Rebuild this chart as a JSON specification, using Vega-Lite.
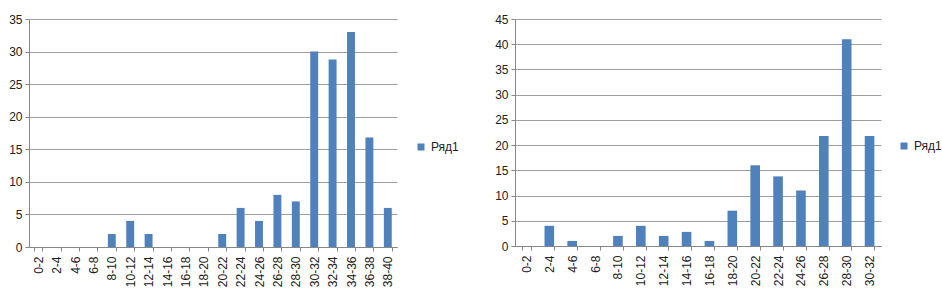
{
  "$schema": "https://vega.github.io/schema/vega-lite/v6.json",
  "padding": {"left": 8, "top": 13, "right": 2, "bottom": 2},
  "background": "white",
  "datasets": {
    "left": [
      {"bin": "0-2", "value": 0, "series": "Ряд1"},
      {"bin": "2-4", "value": 0, "series": "Ряд1"},
      {"bin": "4-6", "value": 0, "series": "Ряд1"},
      {"bin": "6-8", "value": 0, "series": "Ряд1"},
      {"bin": "8-10", "value": 2, "series": "Ряд1"},
      {"bin": "10-12", "value": 4, "series": "Ряд1"},
      {"bin": "12-14", "value": 2, "series": "Ряд1"},
      {"bin": "14-16", "value": 0, "series": "Ряд1"},
      {"bin": "16-18", "value": 0, "series": "Ряд1"},
      {"bin": "18-20", "value": 0, "series": "Ряд1"},
      {"bin": "20-22", "value": 2, "series": "Ряд1"},
      {"bin": "22-24", "value": 6, "series": "Ряд1"},
      {"bin": "24-26", "value": 4, "series": "Ряд1"},
      {"bin": "26-28", "value": 8, "series": "Ряд1"},
      {"bin": "28-30", "value": 7, "series": "Ряд1"},
      {"bin": "30-32", "value": 30, "series": "Ряд1"},
      {"bin": "32-34", "value": 28.8, "series": "Ряд1"},
      {"bin": "34-36", "value": 33, "series": "Ряд1"},
      {"bin": "36-38", "value": 16.8, "series": "Ряд1"},
      {"bin": "38-40", "value": 6, "series": "Ряд1"}
    ],
    "right": [
      {"bin": "0-2", "value": 0, "series": "Ряд1"},
      {"bin": "2-4", "value": 4, "series": "Ряд1"},
      {"bin": "4-6", "value": 1, "series": "Ряд1"},
      {"bin": "6-8", "value": 0, "series": "Ряд1"},
      {"bin": "8-10", "value": 2, "series": "Ряд1"},
      {"bin": "10-12", "value": 4, "series": "Ряд1"},
      {"bin": "12-14", "value": 2, "series": "Ряд1"},
      {"bin": "14-16", "value": 2.8, "series": "Ряд1"},
      {"bin": "16-18", "value": 1, "series": "Ряд1"},
      {"bin": "18-20", "value": 7, "series": "Ряд1"},
      {"bin": "20-22", "value": 16, "series": "Ряд1"},
      {"bin": "22-24", "value": 13.8, "series": "Ряд1"},
      {"bin": "24-26", "value": 11, "series": "Ряд1"},
      {"bin": "26-28", "value": 21.8, "series": "Ряд1"},
      {"bin": "28-30", "value": 41, "series": "Ряд1"},
      {"bin": "30-32", "value": 21.8, "series": "Ряд1"}
    ]
  },
  "spacing": 35,
  "hconcat": [
    {
      "data": {"name": "left"},
      "width": 368,
      "height": 228,
      "mark": {"type": "bar"},
      "encoding": {
        "x": {
          "field": "bin", "type": "nominal", "sort": null,
          "scale": {"paddingInner": 0.57, "paddingOuter": 0.285},
          "axis": {"title": null, "labelAngle": -90, "tickBand": "extent", "grid": false}
        },
        "y": {
          "field": "value", "type": "quantitative",
          "scale": {"domain": [0, 35], "nice": false},
          "axis": {"title": null, "values": [0, 5, 10, 15, 20, 25, 30, 35], "grid": true}
        },
        "color": {
          "field": "series", "type": "nominal",
          "scale": {"range": ["#4F81BD"]},
          "legend": {"title": null, "orient": "none", "legendX": 386, "legendY": 122}
        }
      }
    },
    {
      "data": {"name": "right"},
      "width": 366,
      "height": 227,
      "mark": {"type": "bar"},
      "encoding": {
        "x": {
          "field": "bin", "type": "nominal", "sort": null,
          "scale": {"paddingInner": 0.58, "paddingOuter": 0.29},
          "axis": {"title": null, "labelAngle": -90, "tickBand": "extent", "grid": false}
        },
        "y": {
          "field": "value", "type": "quantitative",
          "scale": {"domain": [0, 45], "nice": false},
          "axis": {"title": null, "values": [0, 5, 10, 15, 20, 25, 30, 35, 40, 45], "grid": true}
        },
        "color": {
          "field": "series", "type": "nominal",
          "scale": {"range": ["#4F81BD"]},
          "legend": {"title": null, "orient": "none", "legendX": 383, "legendY": 121}
        }
      }
    }
  ],
  "resolve": {"scale": {"color": "independent"}},
  "config": {
    "font": "Liberation Sans",
    "view": {"stroke": null},
    "axis": {
      "labelFont": "Liberation Sans",
      "labelFontSize": 12,
      "labelColor": "#222222",
      "domainColor": "#878787",
      "tickColor": "#878787",
      "gridColor": "#878787",
      "gridWidth": 0.8,
      "tickSize": 4,
      "labelPadding": 3
    },
    "axisX": {"labelBaseline": "middle", "labelAlign": "right", "labelPadding": 5},
    "legend": {
      "symbolType": "square",
      "symbolSize": 49,
      "symbolStrokeWidth": 0,
      "labelFont": "Liberation Sans",
      "labelFontSize": 12,
      "labelColor": "#222222"
    }
  }
}
